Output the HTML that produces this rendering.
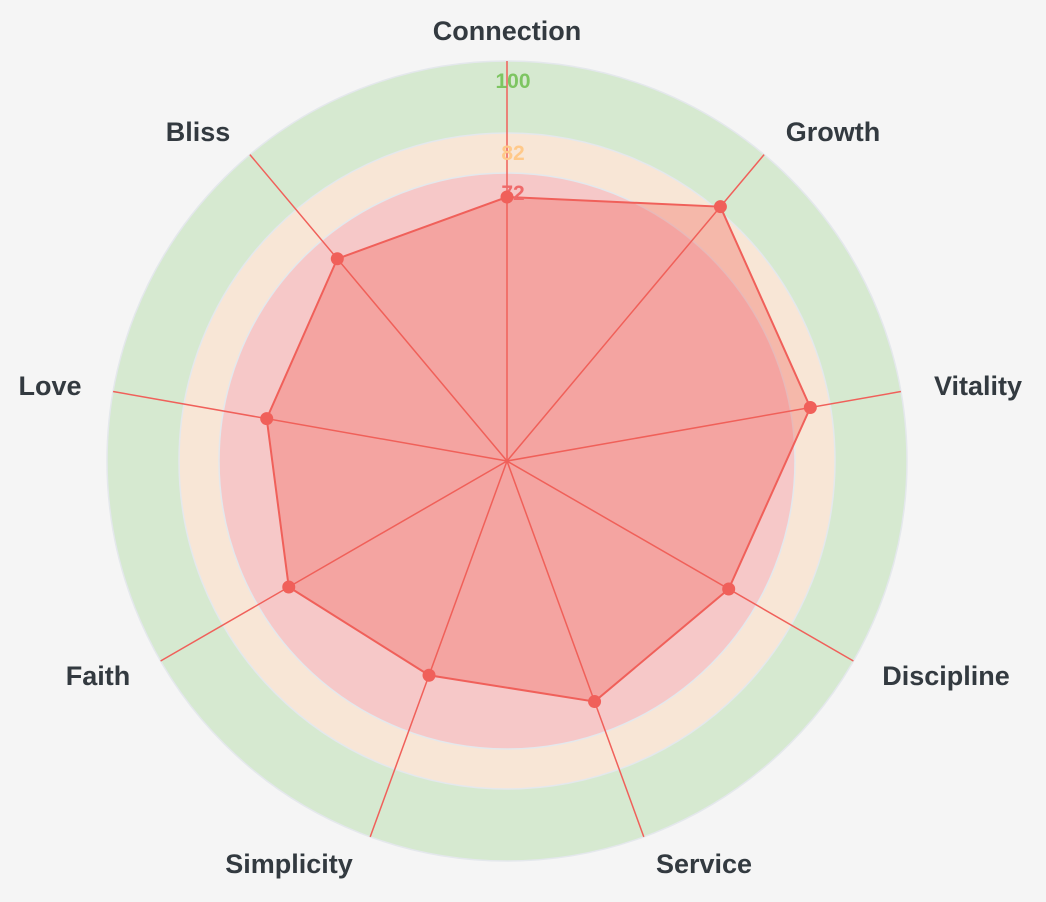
<!DOCTYPE html>
<html><head><meta charset="utf-8"><style>
html,body{margin:0;padding:0;background:#f5f5f5;}
svg{display:block;}
.lbl{font-family:"Liberation Sans",sans-serif;font-size:27px;font-weight:bold;fill:#333a40;}
.tick{font-family:"Liberation Sans",sans-serif;font-size:21px;font-weight:bold;}
</style></head><body>
<svg id="chart" width="1046" height="902" viewBox="0 0 1046 902">
<rect width="1046" height="902" fill="#f5f5f5"/>
</svg>
<script>
const categories=["Connection","Growth","Vitality","Discipline","Service","Simplicity","Faith","Love","Bliss"];
const values=[66,83,77,64,64,57,63,61,66];
const bandValues=[100,82,72];
const bandColors=["#d6e9d0","#f8e6d6","#f6c8c8"];
const tickColors=["#7dc561","#ffc98a","#ef6a6a"];
const cx=507,cy=461,R=400,maxV=100;
const NS="http://www.w3.org/2000/svg";
const svg=document.getElementById('chart');
function r(v){return v/maxV*R;}
function pt(i,v){const a=i*2*Math.PI/categories.length;return [cx+r(v)*Math.sin(a),cy-r(v)*Math.cos(a)];}
function mk(tag,attrs){const e=document.createElementNS(NS,tag);for(const k in attrs)e.setAttribute(k,attrs[k]);svg.appendChild(e);return e;}
bandValues.forEach((v,i)=>{
 const c=mk('circle',{cx:cx,cy:cy,r:r(v),fill:bandColors[i],stroke:"#e4e8ec","stroke-width":1.5});
 
 
});
categories.forEach((c,i)=>{
 const p=pt(i,maxV);
 const l=mk('line',{x1:cx,y1:cy,x2:p[0],y2:p[1],stroke:"#f0605a","stroke-width":1.5});
 
 
});
const poly=mk('polygon',{points:values.map((v,i)=>pt(i,v).join(',')).join(' '),fill:"rgba(240,96,90,0.35)",stroke:"#f0605a","stroke-width":2});


bandValues.forEach((v,i)=>{
 const t=mk('text',{x:cx+6,y:cy-r(v)+27,"text-anchor":"middle",fill:tickColors[i],class:"tick"});
 t.textContent=v;
 
 
});
values.forEach((v,i)=>{
 const p=pt(i,v);
 const d=mk('circle',{cx:p[0],cy:p[1],r:6.5,fill:"#f0605a"});
 
 
});
const lpos=[[507,30],[833,131],[978,385],[946,675],[704,863],[289,863],[98,675],[50,385],[198,131]];
categories.forEach((c,i)=>{
 const t=mk('text',{x:lpos[i][0],y:lpos[i][1]+10,"text-anchor":"middle",class:"lbl"});
 t.textContent=c;
 
 
});
</script>
</body></html>
